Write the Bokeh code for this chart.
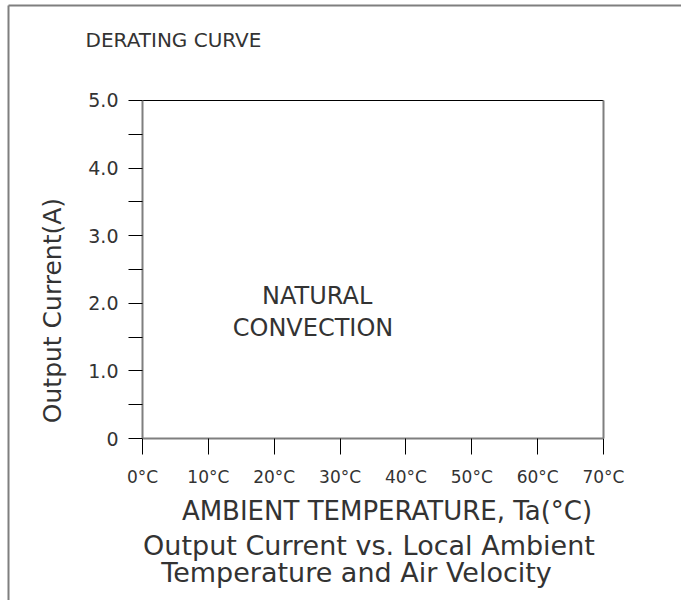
from bokeh.plotting import figure
from bokeh.models import Range1d, FixedTicker, Label, LinearAxis
from bokeh.embed import file_html
from bokeh.resources import INLINE

# ---- data ----
x_ticks = [0, 10, 20, 30, 40, 50, 60, 70]
x_tick_labels = ["0°C", "10°C", "20°C", "30°C", "40°C", "50°C", "60°C", "70°C"]
y_ticks = [0, 1, 2, 3, 4, 5]
y_tick_labels = ["0", "1.0", "2.0", "3.0", "4.0", "5.0"]
y_minor_ticks = [0.5, 1.5, 2.5, 3.5, 4.5]

title_text = "DERATING CURVE"
x_label = "AMBIENT TEMPERATURE, Ta(°C)"
y_label = "Output Current(A)"
caption_lines = ["Output Current vs. Local Ambient", "Temperature and Air Velocity"]
region_lines = ["NATURAL", "CONVECTION"]

FONT = "DejaVu Sans"
TXT = "#333333"
GRAY = "#7f7f7f"

W, H = 681, 600
# the whole canvas is the plot area; axes are pinned at data locations
X0, X1 = -21.562, 81.845
Y0, Y1 = -2.396, 6.479
p = figure(width=W, height=H, output_backend="svg", toolbar_location=None,
           x_range=Range1d(X0, X1), y_range=Range1d(Y0, Y1),
           min_border=0, min_border_left=0, min_border_right=0,
           min_border_top=0, min_border_bottom=0)
p.xgrid.visible = False
p.ygrid.visible = False
p.outline_line_color = None
p.background_fill_color = "white"
p.border_fill_color = "white"

# x axis
xa = p.xaxis[0]
xa.fixed_location = 0
xa.bounds = (x_ticks[0], x_ticks[-1])
xa.ticker = FixedTicker(ticks=x_ticks)
xa.major_label_overrides = {t: l for t, l in zip(x_ticks, x_tick_labels)}
xa.major_tick_in = 0
xa.major_tick_out = 16
xa.minor_tick_line_color = None
xa.major_tick_line_color = "black"
xa.axis_line_color = GRAY
xa.axis_line_width = 2
xa.major_label_text_font = FONT
xa.major_label_text_font_size = "17px"
xa.major_label_text_color = TXT
xa.major_label_standoff = 12

# y axis
ya = p.yaxis[0]
ya.fixed_location = 0
ya.bounds = (y_ticks[0], y_ticks[-1])
ya.ticker = FixedTicker(ticks=y_ticks, minor_ticks=y_minor_ticks)
ya.major_label_overrides = {t: l for t, l in zip(y_ticks, y_tick_labels)}
ya.major_tick_in = 0
ya.major_tick_out = 14
ya.minor_tick_in = 0
ya.minor_tick_out = 14
ya.major_tick_line_color = "black"
ya.minor_tick_line_color = "black"
ya.axis_line_color = GRAY
ya.axis_line_width = 2
ya.major_label_text_font = FONT
ya.major_label_text_font_size = "19px"
ya.major_label_text_color = TXT
ya.major_label_standoff = 10

def bare_axis(side, fixed, bounds, color, width):
    ax = LinearAxis(fixed_location=fixed, bounds=bounds, axis_line_color=color,
                    axis_line_width=width, major_tick_line_color=None,
                    minor_tick_line_color=None, major_label_text_font_size="0px",
                    major_label_text_color=None)
    p.add_layout(ax, side)

# top and right lines of the chart box
bare_axis("above", y_ticks[-1], (x_ticks[0], x_ticks[-1]), "black", 1)
bare_axis("right", x_ticks[-1], (y_ticks[0], y_ticks[-1]), GRAY, 2)
# sheet border (left and top)
BX, BY = -20.35, 6.405
bare_axis("left", BX, (Y0, BY), GRAY, 2)
bare_axis("above", BY, (BX, X1), GRAY, 2)

DY = 0.118  # baseline correction (8 px)

def lab(x, y, text, size, align="center", angle=0.0):
    p.add_layout(Label(x=x, y=y, text=text, text_font=FONT, text_font_size=size,
                       text_color=TXT, text_align=align, text_baseline="alphabetic",
                       angle=angle))

lab(-8.65, 5.784 + DY, title_text, "20px", align="left")
lab(-13.66, 1.893, y_label, "25px", angle=1.5708)
lab(37.13, -1.183 + DY, x_label, "26px")
lab(34.39, -1.701 + DY, caption_lines[0], "27px")
lab(32.5, -2.101 + DY, caption_lines[1], "27px")
lab(26.53, 1.997 + DY, region_lines[0], "24px")
lab(25.89, 1.524 + DY, region_lines[1], "24px")

open("out.html", "w").write(file_html(p, INLINE))
